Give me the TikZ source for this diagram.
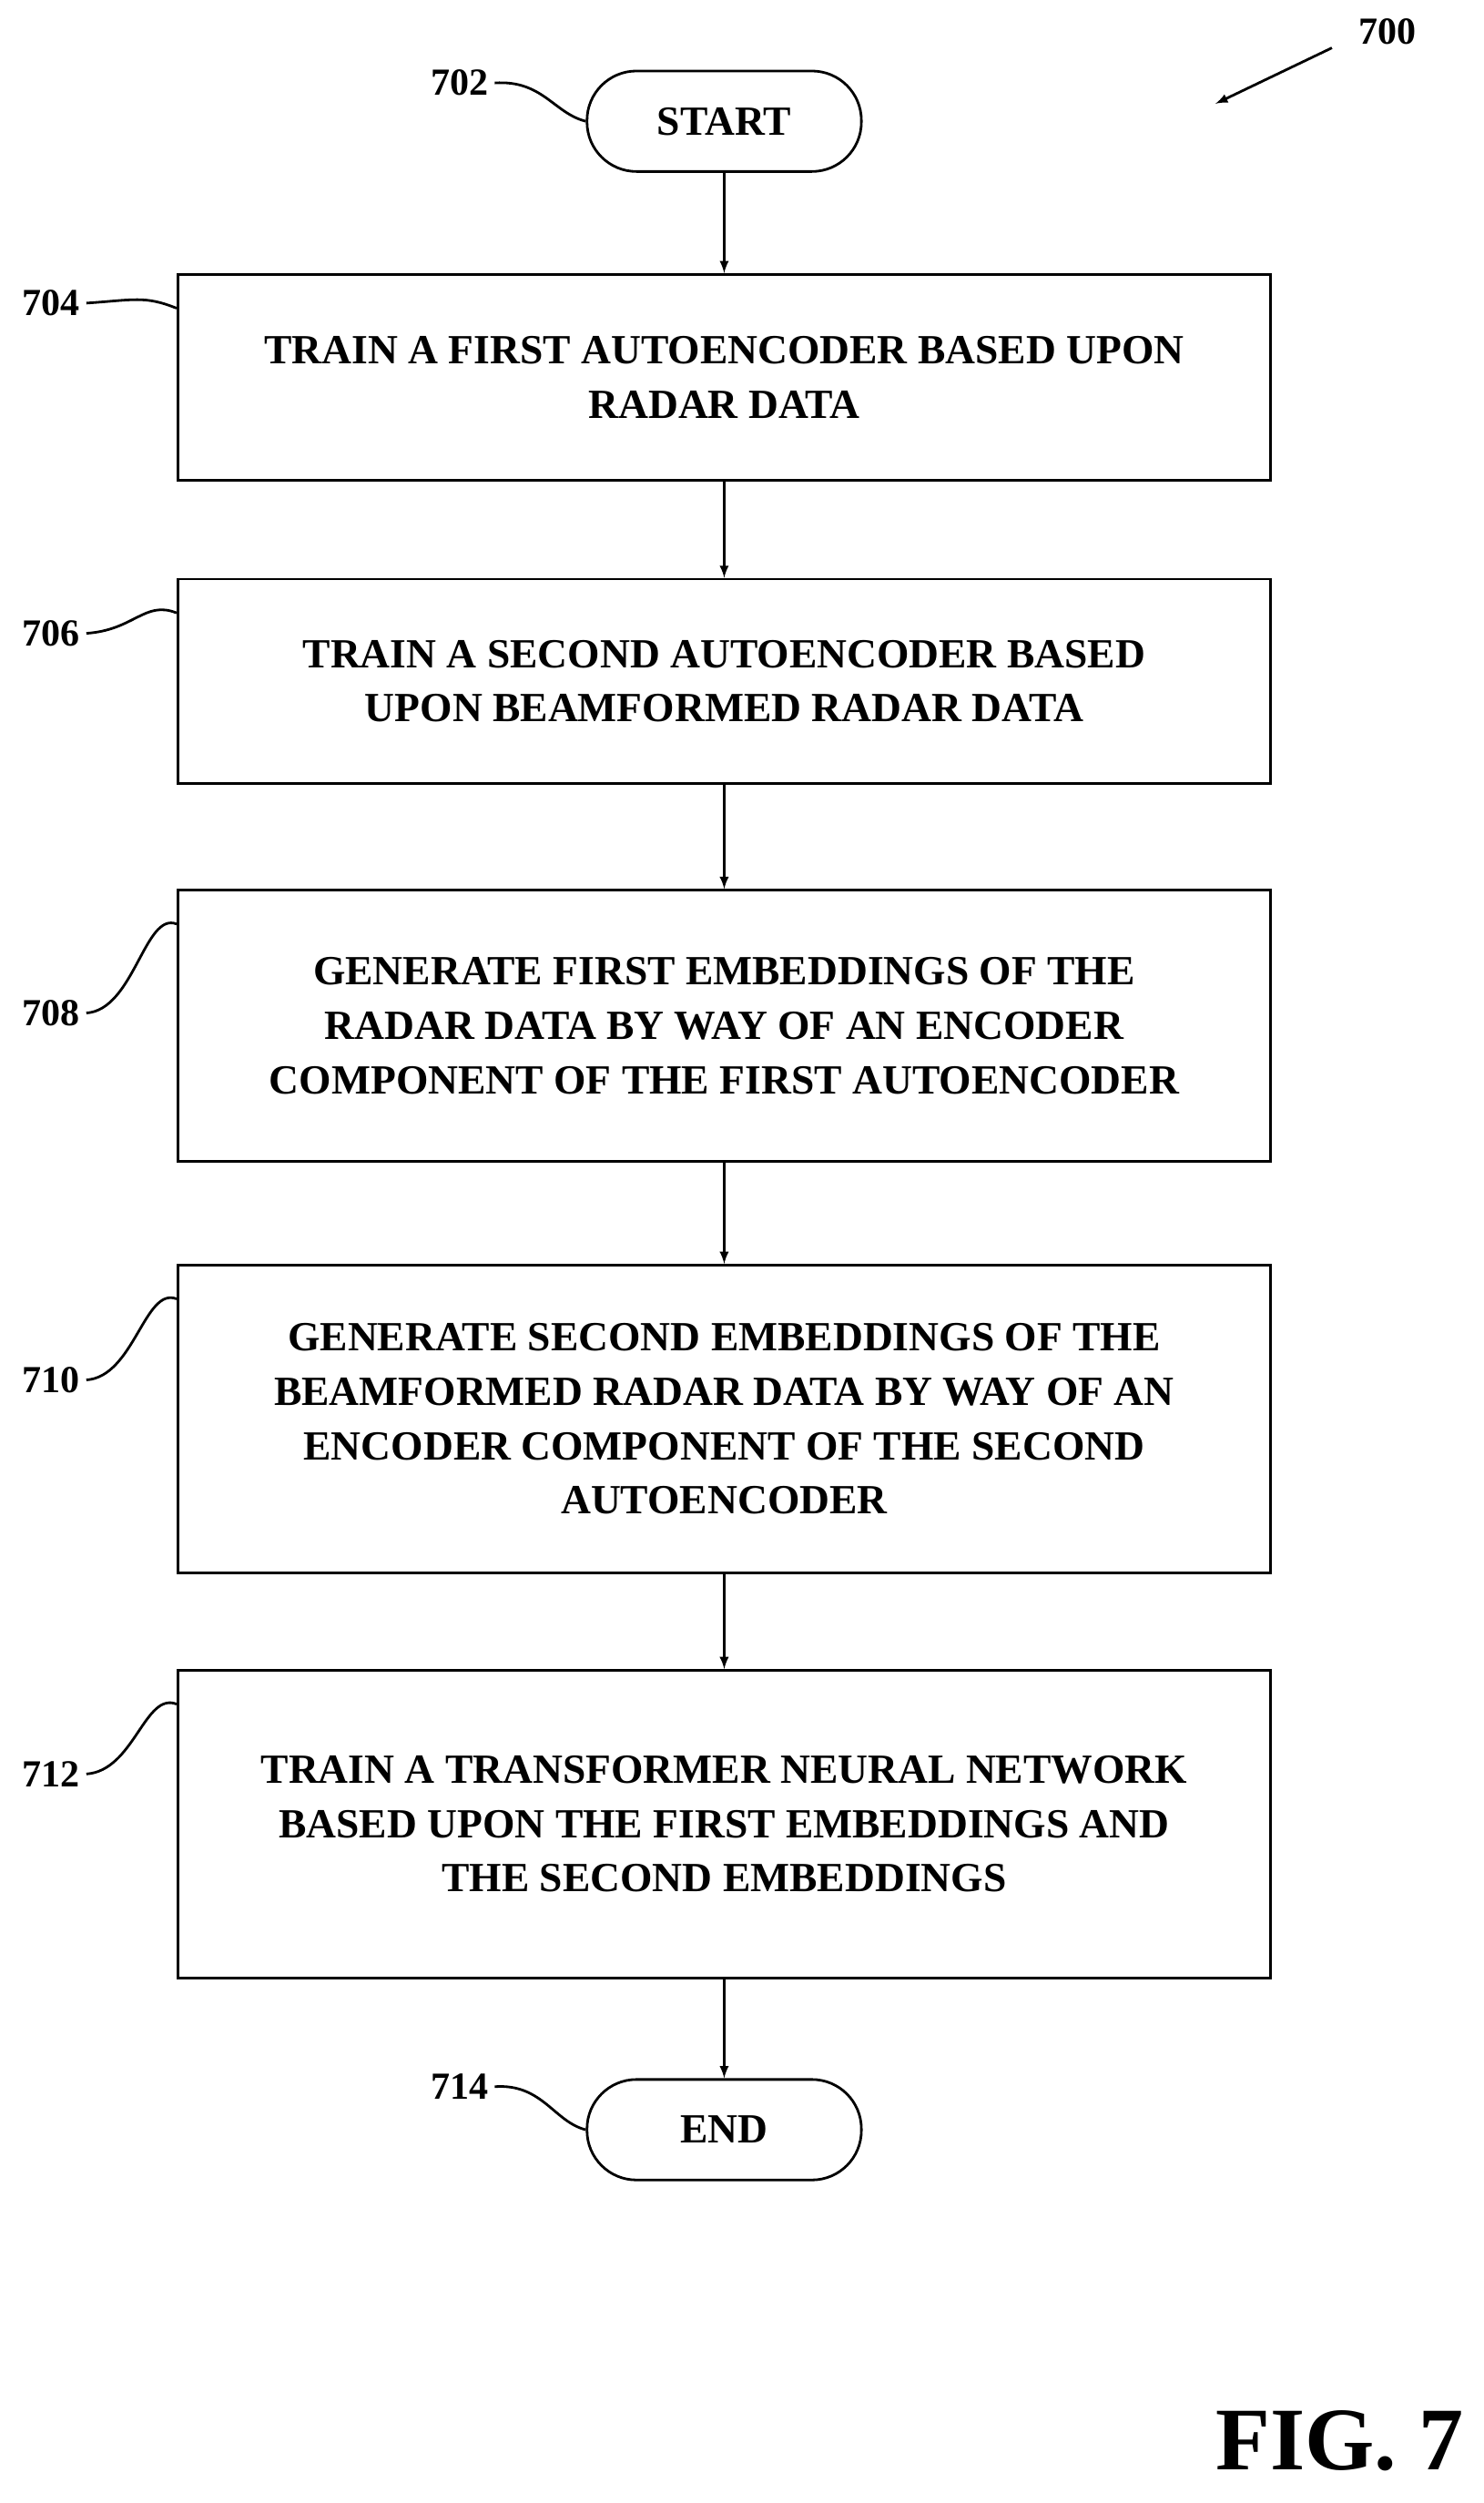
\documentclass[tikz,border=0pt]{standalone}
\usepackage{fontspec}
\setmainfont{Liberation Serif}
\usetikzlibrary{positioning}
\begin{document}
\begin{tikzpicture}[x=1pt,y=-1pt,line width=1.6pt,
            step_style/.style={draw, rectangle, minimum width=685pt, align=center,
              font=\fontsize{26}{34}\selectfont\bfseries},
            term_style/.style={draw, rounded corners=31pt, minimum width=172pt, minimum height=63pt,
              font=\fontsize{26}{34}\selectfont\bfseries},
            ref_style/.style={font=\fontsize{24}{28}\selectfont\bfseries},
            edge_style/.style={draw=black,-latex}]
            \useasboundingbox (0,0) rectangle (930,1569);
            \node[term_style] (start) at (454,76){START};
            \node[step_style, minimum height=129pt] (s704) at (454,236.5){TRAIN A FIRST AUTOENCODER BASED UPON\\RADAR DATA};
            \node[step_style, minimum height=128pt] (s706) at (454,427){TRAIN A SECOND AUTOENCODER BASED\\UPON BEAMFORMED RADAR DATA};
            \node[step_style, minimum height=170pt] (s708) at (454,643){GENERATE FIRST EMBEDDINGS OF THE\\RADAR DATA BY WAY OF AN ENCODER\\COMPONENT OF THE FIRST AUTOENCODER};
            \node[step_style, minimum height=193pt] (s710) at (454,889.5){GENERATE SECOND EMBEDDINGS OF THE\\BEAMFORMED RADAR DATA BY WAY OF AN\\ENCODER COMPONENT OF THE SECOND\\AUTOENCODER};
            \node[step_style, minimum height=193pt] (s712) at (454,1143.5){TRAIN A TRANSFORMER NEURAL NETWORK\\BASED UPON THE FIRST EMBEDDINGS AND\\THE SECOND EMBEDDINGS};
            \node[term_style] (end) at (454,1335){END};
            \draw[edge_style] (start) -- (s704);
            \draw[edge_style] (s704) -- (s706);
            \draw[edge_style] (s706) -- (s708);
            \draw[edge_style] (s708) -- (s710);
            \draw[edge_style] (s710) -- (s712);
            \draw[edge_style] (s712) -- (end);
            % reference numerals
            \node[ref_style] (r702) at (288,52){702};
            \node[ref_style] (r704) at (32,190){704};
            \node[ref_style] (r706) at (32,397){706};
            \node[ref_style] (r708) at (32,635){708};
            \node[ref_style] (r710) at (32,865){710};
            \node[ref_style] (r712) at (32,1112){712};
            \node[ref_style] (r714) at (288,1308){714};
            \draw (r702.east) .. controls +(30,-2) and +(-20,-5) .. (start.west);
            \draw (r714.east) .. controls +(30,-2) and +(-20,-5) .. (end.west);
            \foreach \r/\s in {r704/s704,r706/s706,r708/s708,r710/s710,r712/s712}
              \draw (\r.east) .. controls +(30,-2) and +(-20,-8) .. ([yshift=-22pt]\s.north west);
            \node[ref_style] (r700) at (870,20){700};
            \coordinate (a700) at (835,30);
            \coordinate (t700) at (762,65);
            \draw[-latex] (a700) -- (t700);
            \node[font=\fontsize{56}{60}\selectfont\bfseries] (fig) at (840,1530){FIG. 7};
        \end{tikzpicture}
\end{document}
